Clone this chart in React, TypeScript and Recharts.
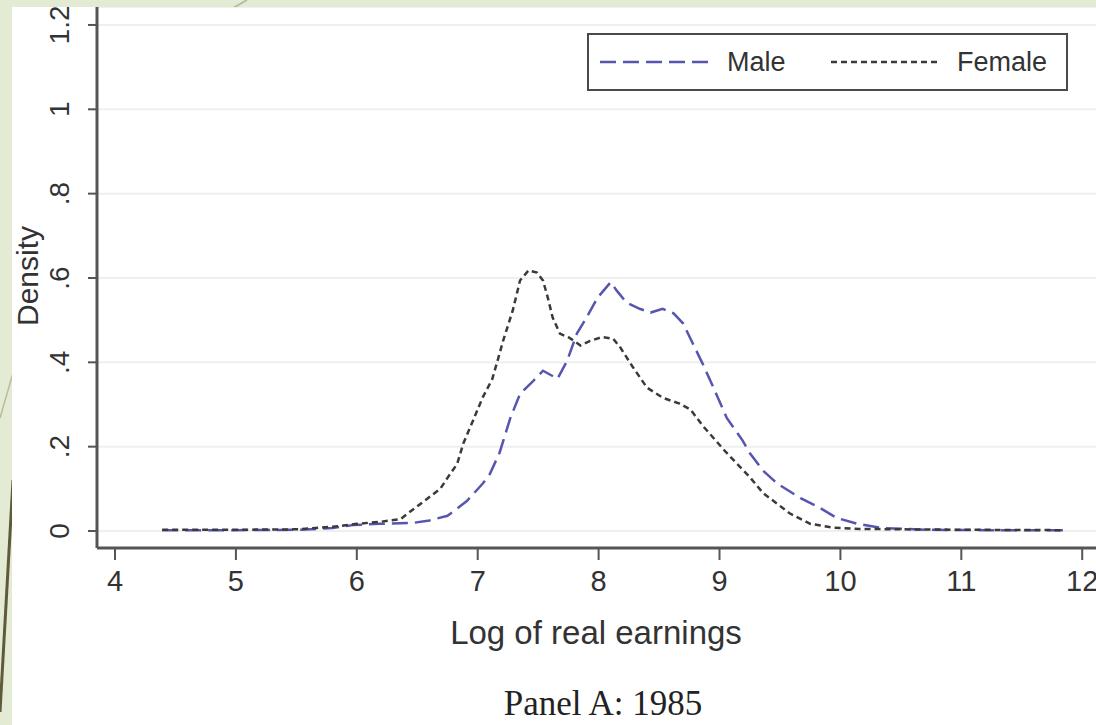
import { LineChart, Line, XAxis, YAxis, CartesianGrid, Legend, Label } from 'recharts'

const femaleX = [4.39, 5.0, 5.5, 5.8, 6.0, 6.2, 6.36, 6.47, 6.58, 6.69, 6.75, 6.83, 6.88, 6.96, 7.04, 7.12, 7.18, 7.21, 7.29, 7.35, 7.42, 7.49, 7.54, 7.58, 7.62, 7.68, 7.76, 7.85, 7.93, 8.03, 8.12, 8.18, 8.28, 8.4, 8.53, 8.67, 8.76, 8.86, 9.05, 9.25, 9.36, 9.48, 9.58, 9.75, 9.94, 10.16, 10.5, 11.0, 11.84]
const femaleY = [0.003, 0.003, 0.004, 0.01, 0.017, 0.022, 0.028, 0.052, 0.076, 0.1, 0.126, 0.159, 0.207, 0.261, 0.316, 0.36, 0.42, 0.451, 0.523, 0.594, 0.618, 0.613, 0.594, 0.553, 0.506, 0.468, 0.458, 0.44, 0.451, 0.46, 0.456, 0.435, 0.39, 0.34, 0.316, 0.302, 0.288, 0.25, 0.188, 0.128, 0.09, 0.064, 0.042, 0.017, 0.008, 0.005, 0.004, 0.003, 0.002]

const maleX = [4.39, 5.0, 5.53, 5.8, 5.97, 6.19, 6.46, 6.6, 6.75, 6.91, 7.04, 7.1, 7.18, 7.27, 7.35, 7.46, 7.54, 7.66, 7.74, 7.82, 7.9, 7.99, 8.1, 8.15, 8.23, 8.34, 8.43, 8.53, 8.62, 8.7, 8.78, 8.86, 8.95, 9.06, 9.19, 9.25, 9.36, 9.48, 9.67, 9.83, 9.97, 10.14, 10.35, 10.7, 11.2, 11.84]
const maleY = [0.002, 0.002, 0.003, 0.007, 0.014, 0.017, 0.019, 0.025, 0.036, 0.071, 0.112, 0.135, 0.185, 0.268, 0.325, 0.356, 0.38, 0.361, 0.404, 0.468, 0.506, 0.553, 0.59, 0.57, 0.542, 0.527, 0.518, 0.527, 0.516, 0.492, 0.444, 0.397, 0.34, 0.268, 0.215, 0.185, 0.143, 0.112, 0.078, 0.055, 0.031, 0.017, 0.007, 0.003, 0.002, 0.002]

const seriesNames = ['Male', 'Female']
const xTicks = [4, 5, 6, 7, 8, 9, 10, 11, 12]
const yTicks = [0, 0.2, 0.4, 0.6, 0.8, 1, 1.2]

const maleData = maleX.map((x, i) => ({ x, y: maleY[i] }))
const femaleData = femaleX.map((x, i) => ({ x, y: femaleY[i] }))

const SANS = '"Liberation Sans", Arial, sans-serif'
const AXIS = '#555'
const TEXT = '#333'
const MALE = '#5656b0'
const FEMALE = '#3a3a3a'

const fmtY = (v: number) => (v === 0 ? '0' : String(v).replace(/^0\./, '.'))

function XTick({ x, payload }: any) {
    return (
        <text x={x} y={581} textAnchor="middle" dominantBaseline="central" fontFamily={SANS} fontSize={29} fill={TEXT}>
            {payload.value}
        </text>
    )
}

function YTick({ y, payload }: any) {
    return (
        <text
            x={60}
            y={y}
            transform={`rotate(-90, 60, ${y})`}
            textAnchor="middle"
            dominantBaseline="central"
            fontFamily={SANS}
            fontSize={28}
            fill={TEXT}
        >
            {fmtY(payload.value)}
        </text>
    )
}

function LegendBox({ payload }: any) {
    const items = [...(payload || [])].sort((a: any, b: any) => seriesNames.indexOf(a.value) - seriesNames.indexOf(b.value))
    const spots = [
        { line: 11, text: 138 },
        { line: 242, text: 368 },
    ]
    return (
        <div
            style={{
                position: 'relative',
                boxSizing: 'border-box',
                width: 481,
                height: 58,
                border: '2px solid #4a4a4a',
                background: '#fff',
                fontFamily: SANS,
                fontSize: 27,
                color: TEXT,
            }}
        >
            {items.map((it: any, i: number) => (
                <div key={it.value}>
                    <svg style={{ position: 'absolute', left: spots[i].line, top: 22 }} width={110} height={10}>
                        <line x1={0} y1={5} x2={110} y2={5} stroke={it.color} strokeWidth={2.5} strokeDasharray={it.payload.strokeDasharray} />
                    </svg>
                    <span style={{ position: 'absolute', left: spots[i].text, top: 9, lineHeight: '36px' }}>{it.value}</span>
                </div>
            ))}
        </div>
    )
}

export default function App() {
    return (
        <div style={{ position: 'absolute', left: 0, top: 0, width: 1096, height: 725, background: '#e4ebd5', overflow: 'hidden' }}>
            <svg style={{ position: 'absolute', left: 0, top: 0 }} width={1096} height={725}>
                <line x1={247} y1={0} x2={233} y2={8} stroke="#b3b68f" strokeWidth={1.5} />
                <line x1={13} y1={373} x2={0} y2={418} stroke="#b9bc98" strokeWidth={1.5} />
                <line x1={13} y1={480} x2={0} y2={712} stroke="#5e5a3c" strokeWidth={3} />
            </svg>
            <div style={{ position: 'absolute', left: 12, top: 7, width: 1084, height: 718, background: '#fff', overflow: 'hidden' }}>
                <div style={{ position: 'absolute', left: -12, top: -7 }}>
                    <LineChart width={1096} height={725} margin={{ top: 7, right: 0, bottom: 117, left: 0 }}>
                        <CartesianGrid vertical={false} stroke="#efefef" strokeWidth={2} />
                        <XAxis
                            type="number"
                            dataKey="x"
                            domain={[3.851, 12.114]}
                            ticks={xTicks}
                            allowDataOverflow
                            height={60}
                            axisLine={{ stroke: AXIS, strokeWidth: 3 }}
                            tickLine={{ stroke: AXIS, strokeWidth: 2 }}
                            tickSize={12}
                            tick={<XTick />}
                        >
                            <Label
                                content={() => (
                                    <text x={596} y={632} textAnchor="middle" dominantBaseline="central" fontFamily={SANS} fontSize={33} fill={TEXT}>
                                        Log of real earnings
                                    </text>
                                )}
                            />
                        </XAxis>
                        <YAxis
                            type="number"
                            domain={[-0.0403, 1.2426]}
                            ticks={yTicks}
                            allowDataOverflow
                            width={97}
                            axisLine={{ stroke: AXIS, strokeWidth: 3 }}
                            tickLine={{ stroke: AXIS, strokeWidth: 2 }}
                            tickSize={9}
                            tick={<YTick />}
                        >
                            <Label
                                content={() => (
                                    <text
                                        x={27}
                                        y={276}
                                        transform="rotate(-90, 27, 276)"
                                        textAnchor="middle"
                                        dominantBaseline="central"
                                        fontFamily={SANS}
                                        fontSize={30}
                                        fill={TEXT}
                                    >
                                        Density
                                    </text>
                                )}
                            />
                        </YAxis>
                        <Legend
                            layout="horizontal"
                            verticalAlign="middle"
                            align="center"
                            wrapperStyle={{ top: 33, left: 587, width: 481, height: 58 }}
                            content={<LegendBox />}
                        />
                        <Line
                            data={maleData}
                            dataKey="y"
                            name="Male"
                            type="linear"
                            stroke={MALE}
                            strokeWidth={2.5}
                            strokeDasharray="16 7"
                            dot={false}
                            activeDot={false}
                            isAnimationActive={false}
                        />
                        <Line
                            data={femaleData}
                            dataKey="y"
                            name="Female"
                            type="linear"
                            stroke={FEMALE}
                            strokeWidth={2.5}
                            strokeDasharray="6 4"
                            dot={false}
                            activeDot={false}
                            isAnimationActive={false}
                        />
                    </LineChart>
                </div>
                <div
                    style={{
                        position: 'absolute',
                        left: -12,
                        top: 676,
                        width: 1206,
                        textAlign: 'center',
                        fontFamily: '"Liberation Serif", "Times New Roman", serif',
                        fontSize: 35,
                        lineHeight: '42px',
                        color: '#222',
                    }}
                >
                    Panel A: 1985
                </div>
            </div>
        </div>
    )
}
